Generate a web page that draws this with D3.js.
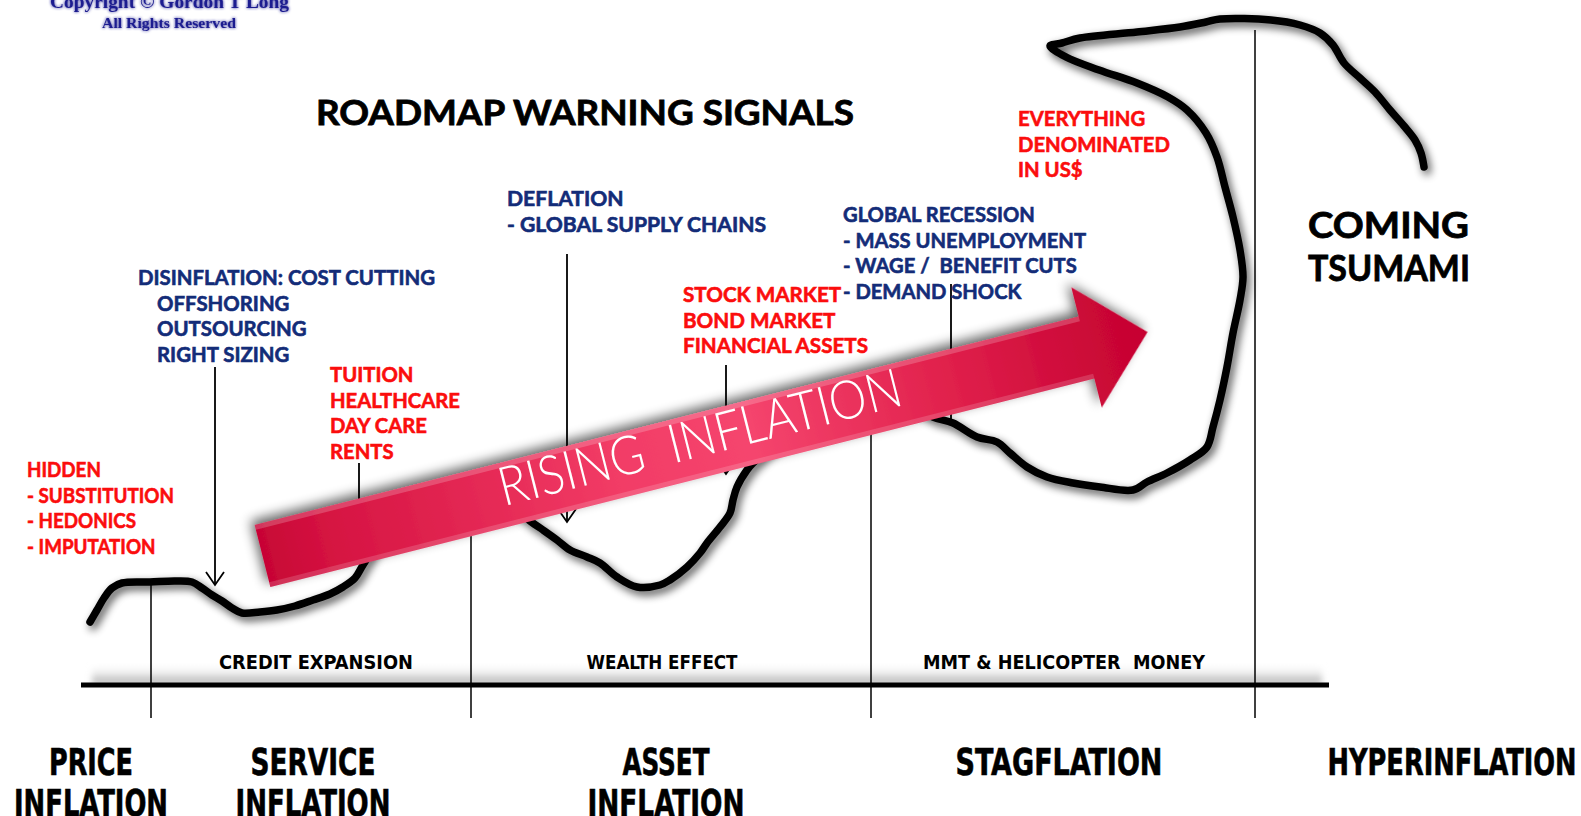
<!DOCTYPE html>
<html>
<head>
<meta charset="utf-8">
<script src="https://cdn.jsdelivr.net/npm/d3@7/dist/d3.min.js"></script>
<style>
html, body { margin: 0; padding: 0; background: #fff; overflow: hidden; }
svg { display: block; }
text { white-space: pre; }
</style>
</head>
<body>
<div id="figure"><svg width="1581" height="816"></svg></div>
<script>
// the inflation wave: horizontal position and level (from bottom)
var waveX = [90, 97, 104, 112, 122, 150, 175, 192, 202, 212, 222, 232, 242, 260, 277, 295, 313, 330, 343, 355, 363,
             380, 410, 450, 490, 515,
             530, 543, 557, 570, 587, 600, 617, 637, 660, 670, 687, 700, 707, 720, 730, 733, 737, 747, 753,
             790, 840, 890, 918,
             933, 953, 977, 997, 1010, 1027, 1047, 1073, 1100, 1133, 1147, 1167, 1190, 1207, 1213, 1220, 1227, 1233, 1240, 1243,
             1240, 1233, 1225, 1217, 1206, 1187, 1168, 1137, 1099, 1066, 1050,
             1062, 1080, 1137, 1180, 1206, 1220, 1271, 1300, 1320, 1333, 1344, 1360, 1375, 1390, 1404, 1415, 1421, 1424];
var waveLevel = [194, 206, 218, 228, 233, 234, 235, 234, 228, 221, 215, 208, 203, 204, 206, 210, 216, 222, 229, 238, 251,
                 276, 296, 311, 316, 308,
                 295, 286, 276, 266, 259, 253, 239, 229, 231, 236, 249, 263, 273, 289, 303, 316, 329, 346, 353,
                 384, 408, 414, 408,
                 399, 393, 379, 374, 363, 349, 339, 333, 329, 326, 334, 343, 356, 369, 389, 416, 449, 483, 516, 539,
                 566, 599, 629, 659, 683, 706, 719, 733, 746, 759, 770,
                 773, 778, 784, 789, 794, 797, 796, 791, 783, 771, 753, 738, 724, 706, 690, 676, 663, 649];

// stage boundaries along the road
var stageBreaks = [151, 471, 871, 1255];
var stageNames = [["PRICE", "INFLATION"], ["SERVICE", "INFLATION"], ["ASSET", "INFLATION"], ["STAGFLATION"], ["HYPERINFLATION"]];
var policyNames = ["CREDIT EXPANSION", "WEALTH EFFECT", "MMT & HELICOPTER  MONEY"];

// warning notes
var hiddenNotes = ["HIDDEN", "- SUBSTITUTION", "- HEDONICS", "- IMPUTATION"];
var costNotes = ["DISINFLATION: COST CUTTING", "OFFSHORING", "OUTSOURCING", "RIGHT SIZING"];
var serviceNotes = ["TUITION", "HEALTHCARE", "DAY CARE", "RENTS"];
var deflationNotes = ["DEFLATION", "- GLOBAL SUPPLY CHAINS"];
var marketNotes = ["STOCK MARKET", "BOND MARKET", "FINANCIAL ASSETS"];
var recessionNotes = ["GLOBAL RECESSION", "- MASS UNEMPLOYMENT", "- WAGE /  BENEFIT CUTS", "- DEMAND SHOCK"];
var dollarNotes = ["EVERYTHING", "DENOMINATED", "IN US$"];

var W = 1581, H = 816;
var red = "#fb0d0d";
var navy = "#132c78";
var svg = d3.select("#figure svg");
var x = d3.scaleLinear().domain([0, W]).range([0, W]);
var y = d3.scaleLinear().domain([0, H]).range([H, 0]);

var defs = svg.append("defs");

function shadow(id, dx, dy, sd, op) {
  var f = defs.append("filter").attr("id", id)
      .attr("x", "-20%").attr("y", "-20%").attr("width", "140%").attr("height", "140%");
  f.append("feGaussianBlur").attr("in", "SourceAlpha").attr("stdDeviation", sd).attr("result", "b");
  f.append("feOffset").attr("in", "b").attr("dx", dx).attr("dy", dy).attr("result", "o");
  f.append("feComponentTransfer").attr("in", "o").attr("result", "s")
    .append("feFuncA").attr("type", "linear").attr("slope", op);
  var m = f.append("feMerge");
  m.append("feMergeNode").attr("in", "s");
  m.append("feMergeNode").attr("in", "SourceGraphic");
}
shadow("waveShadow", 3, 4, 4, 0.7);
shadow("arrowShadow", -3, -5, 6, 0.6);

var glow = defs.append("filter").attr("id", "glow");
glow.append("feGaussianBlur").attr("in", "SourceGraphic").attr("stdDeviation", 1.6).attr("result", "b");
var gm = glow.append("feMerge");
gm.append("feMergeNode").attr("in", "b");
gm.append("feMergeNode").attr("in", "SourceGraphic");

defs.append("filter").attr("id", "soft")
  .append("feGaussianBlur").attr("stdDeviation", 3);

var grad = defs.append("linearGradient").attr("id", "arrowFill")
    .attr("gradientUnits", "userSpaceOnUse")
    .attr("x1", 0).attr("x2", 913).attr("y1", 0).attr("y2", 0);
[[0, "#c70535"], [0.08, "#d61442"], [0.4, "#f23c66"], [0.55, "#f5456e"], [0.78, "#e0204b"], [0.93, "#cc0838"], [1, "#c6042f"]]
  .forEach(function(s) { grad.append("stop").attr("offset", s[0]).attr("stop-color", s[1]); });

var baseGrad = defs.append("linearGradient").attr("id", "baseFade")
    .attr("x1", 0).attr("x2", 0).attr("y1", 0).attr("y2", 1);
baseGrad.append("stop").attr("offset", 0).attr("stop-color", "#fff").attr("stop-opacity", 0);
baseGrad.append("stop").attr("offset", 1).attr("stop-color", "#a4a4a4");

// copyright
var copy = svg.append("g").attr("filter", "url(#glow)")
    .style("font-family", "'Liberation Serif', serif").style("font-weight", "bold").attr("fill", "#1f1f90");
copy.append("text").attr("x", 50).attr("y", 8).style("font-size", "18px")
  .attr("textLength", 239).attr("lengthAdjust", "spacingAndGlyphs").text("Copyright \u00A9 Gordon T Long");
copy.append("text").attr("x", 102).attr("y", 28).style("font-size", "14.5px")
  .attr("textLength", 134).attr("lengthAdjust", "spacingAndGlyphs").text("All Rights Reserved");

// road line with its shadow
svg.append("rect").attr("x", x(92)).attr("y", 664).attr("width", x(1322) - x(92)).attr("height", 20)
  .attr("fill", "url(#baseFade)").attr("filter", "url(#soft)");
svg.append("line").attr("x1", x(81)).attr("x2", x(1329)).attr("y1", y(131)).attr("y2", y(131))
  .attr("stroke", "#000").attr("stroke-width", 5);

// stage separators
var sepTops = [233, 296, 382, 786];
svg.selectAll("line.sep").data(stageBreaks).enter().append("line").attr("class", "sep")
  .attr("x1", function(d) { return x(d); }).attr("x2", function(d) { return x(d); })
  .attr("y1", function(d, i) { return y(sepTops[i]); }).attr("y2", y(98))
  .attr("stroke", "#000").attr("stroke-width", 1.5);

// pointers from notes down to the wave
var pointers = [
  {x: 215, top: 449, bottom: 231, head: true},
  {x: 359, top: 353, bottom: 256, head: false},
  {x: 567, top: 562, bottom: 294, head: true},
  {x: 726, top: 451, bottom: 342, head: true},
  {x: 951, top: 532, bottom: 396, head: false}
];
var ptr = svg.append("g").attr("stroke", "#000").attr("stroke-width", 1.8).attr("fill", "none");
pointers.forEach(function(p) {
  ptr.append("line").attr("x1", x(p.x)).attr("x2", x(p.x)).attr("y1", y(p.top)).attr("y2", y(p.bottom));
  if (p.head) {
    ptr.append("path").attr("d", "M" + (x(p.x) - 9) + "," + (y(p.bottom) - 13) +
      "L" + x(p.x) + "," + y(p.bottom) + "L" + (x(p.x) + 9) + "," + (y(p.bottom) - 13));
  }
});

// the wave
var wave = d3.line()
    .x(function(d) { return x(d[0]); })
    .y(function(d) { return y(d[1]); })
    .curve(d3.curveCatmullRom.alpha(0.5));
svg.append("path").datum(d3.zip(waveX, waveLevel))
  .attr("d", wave)
  .attr("fill", "none").attr("stroke", "#000").attr("stroke-width", 7.5)
  .attr("stroke-linejoin", "round").attr("stroke-linecap", "round")
  .attr("filter", "url(#waveShadow)");

// rising inflation arrow
var arrow = svg.append("g")
    .attr("transform", "translate(" + x(262.5) + "," + y(260) + ") rotate(-14.2)");
arrow.append("path")
  .attr("d", "M0,-32L850,-32L850,-62L913,0L850,62L850,32L0,32Z")
  .attr("fill", "url(#arrowFill)").attr("filter", "url(#arrowShadow)");
arrow.append("rect").attr("x", 0).attr("y", -32).attr("width", 850).attr("height", 5)
  .attr("fill", "#fff").attr("opacity", 0.2);
arrow.append("rect").attr("x", 0).attr("y", 27).attr("width", 850).attr("height", 5)
  .attr("fill", "#fff").attr("opacity", 0.16);
arrow.append("text").attr("x", 453).attr("y", 11)
  .attr("text-anchor", "middle").attr("fill", "#fff")
  .style("font-family", "Lato, 'Open Sans', sans-serif").style("font-weight", 300).style("font-size", "54px")
  .attr("textLength", 414).attr("lengthAdjust", "spacingAndGlyphs")
  .text("RISING  INFLATION");

// notes
var noteBlocks = [
  {lines: hiddenNotes, x: 27, y: 477, color: red, ref: 1, width: 147},
  {lines: costNotes, x: 138, y: 285, color: navy, ref: 0, width: 297, indent: 19},
  {lines: serviceNotes, x: 330, y: 382, color: red, ref: 1, width: 130},
  {lines: deflationNotes, x: 507, y: 206, color: navy, ref: 1, width: 259},
  {lines: marketNotes, x: 683, y: 302, color: red, ref: 2, width: 185},
  {lines: recessionNotes, x: 843, y: 222, color: navy, ref: 1, width: 243},
  {lines: dollarNotes, x: 1018, y: 126, color: red, ref: 1, width: 152}
];
noteBlocks.forEach(function(b) {
  var g = svg.append("g").attr("fill", b.color).attr("stroke", b.color).attr("stroke-width", 0.6)
      .style("font-family", "Lato, 'Open Sans', sans-serif").style("font-weight", "bold").style("font-size", "20.5px");
  var t = g.selectAll("text").data(b.lines).enter().append("text")
      .attr("x", function(d, i) { return b.x + (i > 0 && b.indent ? b.indent : 0); })
      .attr("y", function(d, i) { return b.y + i * 25.6; })
      .text(function(d) { return d; });
  var k = b.width / t.nodes()[b.ref].getComputedTextLength();
  t.each(function() {
    d3.select(this).attr("textLength", this.getComputedTextLength() * k).attr("lengthAdjust", "spacingAndGlyphs");
  });
});

// headings
var bold = "Lato, 'Open Sans', sans-serif";
var heads = svg.append("g").attr("fill", "#000").attr("stroke", "#000").attr("stroke-width", 0.8)
    .style("font-family", bold).style("font-weight", "bold");
heads.append("text").attr("x", 316).attr("y", 125).style("font-size", "35px")
  .attr("textLength", 538).attr("lengthAdjust", "spacingAndGlyphs").text("ROADMAP WARNING SIGNALS");
heads.append("text").attr("x", 1308).attr("y", 238).style("font-size", "37px")
  .attr("textLength", 161).attr("lengthAdjust", "spacingAndGlyphs").text("COMING");
heads.append("text").attr("x", 1308).attr("y", 281).style("font-size", "37px")
  .attr("textLength", 162).attr("lengthAdjust", "spacingAndGlyphs").text("TSUMAMI");

// policy labels over the road
var narrow = "'Liberation Sans Narrow', 'DejaVu Sans Condensed', sans-serif";
var policyCenters = [316, 662, 1064];
var policyWidths = [194, 151, 282];
svg.selectAll("text.policy").data(policyNames).enter().append("text").attr("class", "policy")
  .attr("x", function(d, i) { return x(policyCenters[i]); }).attr("y", y(147))
  .attr("text-anchor", "middle").style("font-family", narrow).style("font-weight", "bold").style("font-size", "19px")
  .attr("textLength", function(d, i) { return policyWidths[i]; }).attr("lengthAdjust", "spacingAndGlyphs")
  .text(function(d) { return d; });

// stage names under the road
var stageCenters = [91, 313, 666, 1059, 1452];
var stageWidths = [[84, 154], [125, 155], [87, 157], [207], [249]];
stageNames.forEach(function(lines, i) {
  lines.forEach(function(s, j) {
    svg.append("text").attr("x", x(stageCenters[i])).attr("y", y(41 - j * 41))
      .attr("text-anchor", "middle").attr("stroke", "#000").attr("stroke-width", 0.6)
      .style("font-family", narrow).style("font-weight", "bold").style("font-size", "38px")
      .attr("textLength", stageWidths[i][j]).attr("lengthAdjust", "spacingAndGlyphs")
      .text(s);
  });
});
</script>
</body>
</html>
